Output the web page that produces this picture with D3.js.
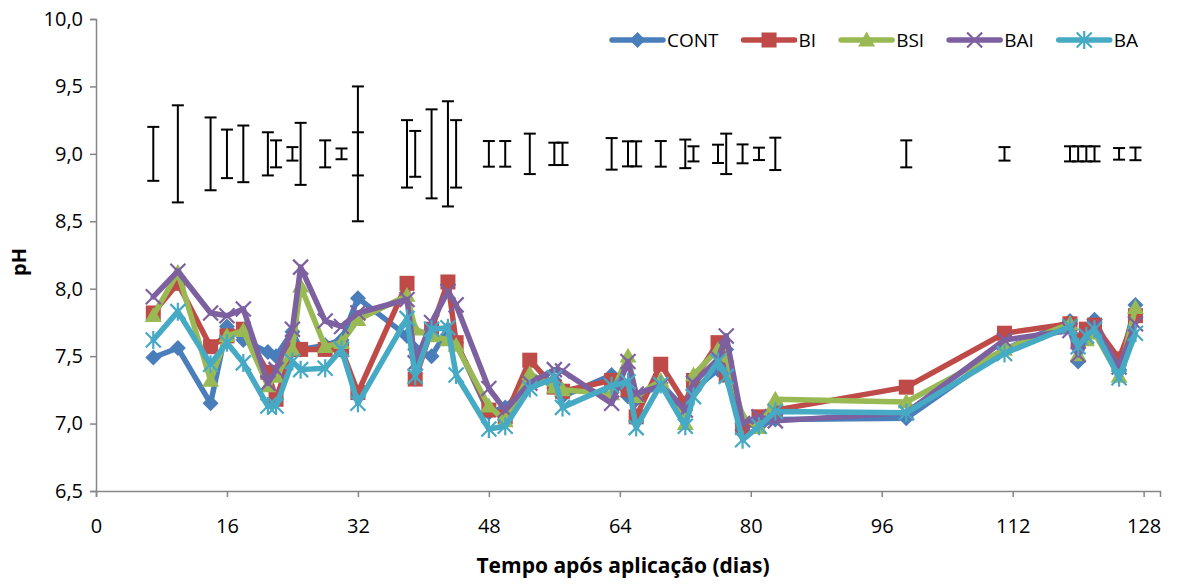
<!DOCTYPE html>
<html>
<head>
<meta charset="utf-8">
<script src="https://cdn.jsdelivr.net/npm/d3@7"></script>
<style>
  body { margin: 0; background: #fff; }
  text { font-family: "Open Sans", sans-serif; }
</style>
</head>
<body>
<svg width="1179" height="584"></svg>
<script>
// ---------------------------------------------------------
// DATA
// ---------------------------------------------------------
const days = [7, 10, 14, 16, 18, 21, 22, 24, 25, 28, 30, 32, 38, 39, 41, 43, 44,
  48, 50, 53, 56, 57, 63, 65, 66, 69, 72, 73, 76, 77, 79, 81, 83, 99, 111,
  119, 120, 121, 122, 125, 127];

const cont = [7.49, 7.56, 7.15, 7.72, 7.62, 7.53, 7.50, 7.68, 7.55, 7.58, 7.62, 7.93, 7.65, 7.55, 7.50, 7.70, 7.60,
  7.08, 7.12, 7.30, 7.32, 7.20, 7.36, 7.20, 7.18, 7.30, 7.10, 7.25, 7.40, 7.55, 7.00, 6.98, 7.03, 7.04, 7.55,
  7.76, 7.46, 7.65, 7.77, 7.40, 7.88];
const bi = [7.82, 8.04, 7.57, 7.65, 7.70, 7.38, 7.18, 7.55, 7.55, 7.55, 7.55, 7.23, 8.04, 7.33, 7.70, 8.05, 7.60,
  7.10, 7.05, 7.47, 7.27, 7.24, 7.32, 7.25, 7.05, 7.44, 7.15, 7.32, 7.60, 7.36, 6.97, 7.05, 7.10, 7.27, 7.67,
  7.74, 7.62, 7.70, 7.73, 7.48, 7.80];
const bsi = [7.80, 8.12, 7.32, 7.65, 7.69, 7.28, 7.35, 7.55, 8.02, 7.57, 7.60, 7.77, 7.95, 7.70, 7.65, 7.62, 7.58,
  7.13, 7.02, 7.37, 7.27, 7.25, 7.22, 7.50, 7.20, 7.32, 7.00, 7.36, 7.55, 7.50, 7.05, 6.97, 7.18, 7.16, 7.55,
  7.74, 7.51, 7.62, 7.67, 7.35, 7.86];
const bai = [7.94, 8.13, 7.82, 7.80, 7.85, 7.30, 7.40, 7.70, 8.16, 7.76, 7.72, 7.82, 7.92, 7.45, 7.75, 7.98, 7.88,
  7.26, 7.10, 7.30, 7.40, 7.39, 7.15, 7.46, 7.22, 7.28, 7.10, 7.30, 7.48, 7.65, 7.00, 7.05, 7.02, 7.08, 7.62,
  7.69, 7.51, 7.65, 7.72, 7.42, 7.74];
const ba = [7.62, 7.83, 7.44, 7.60, 7.45, 7.13, 7.13, 7.46, 7.40, 7.41, 7.55, 7.15, 7.78, 7.35, 7.70, 7.71, 7.36,
  6.96, 6.98, 7.26, 7.34, 7.12, 7.28, 7.31, 6.97, 7.29, 6.98, 7.20, 7.46, 7.35, 6.88, 6.98, 7.09, 7.08, 7.52,
  7.72, 7.57, 7.65, 7.70, 7.34, 7.67];

const seriesNames = ["CONT", "BI", "BSI", "BAI", "BA"];

// error bars (standard deviation) drawn around pH 9,0
const errCenter = 9;
const errDays = [7, 10, 14, 16, 18, 21, 22, 24, 25, 28, 30, 32, 32, 38, 39, 41, 43, 44,
  48, 50, 53, 56, 57, 63, 65, 66, 69, 72, 73, 76, 77, 79, 81, 83, 99, 111,
  119, 120, 121, 122, 125, 127];
const errSD = [0.20, 0.36, 0.27, 0.18, 0.21, 0.16, 0.10, 0.05, 0.23, 0.10, 0.04, 0.50, 0.16, 0.25, 0.17, 0.33, 0.39, 0.25,
  0.095, 0.095, 0.15, 0.083, 0.083, 0.117, 0.093, 0.093, 0.095, 0.106, 0.056, 0.068, 0.15, 0.07, 0.046, 0.12, 0.10, 0.05,
  0.056, 0.056, 0.056, 0.056, 0.043, 0.047];

const xTicks = [0, 16, 32, 48, 64, 80, 96, 112, 128];
const yTicks = [6.5, 7, 7.5, 8, 8.5, 9, 9.5, 10];

// ---------------------------------------------------------
// SETUP
// ---------------------------------------------------------
const svg = d3.select("svg");
const plot = { left: 96, top: 19, right: 1160, bottom: 491 };

const xScale = d3.scaleLinear().domain([0, 130]).range([plot.left, plot.right]);
const yScale = d3.scaleLinear().domain([6.5, 10]).range([plot.bottom, plot.top]);

const colors = ["#4A7EBB", "#BE4B48", "#98B954", "#7D60A0", "#46AAC5"];
const shapes = ["diamond", "square", "triangle", "x", "star"];
const values = [cont, bi, bsi, bai, ba];

const series = seriesNames.map((name, i) => ({
  name: name,
  color: colors[i],
  shape: shapes[i],
  points: days.map((d, j) => ({ day: d, v: values[i][j] }))
}));

const commaFmt = d => d3.format(".1f")(d).replace(".", ",");

// axes
const xAxis = d3.axisBottom(xScale).tickValues(xTicks).tickSize(6).tickPadding(22);
const yAxis = d3.axisLeft(yScale).tickValues(yTicks).tickFormat(commaFmt).tickSize(6).tickPadding(7);

const xAxisGroup = svg.append("g")
  .attr("transform", "translate(0," + plot.bottom + ")")
  .call(xAxis);
const yAxisGroup = svg.append("g")
  .attr("transform", "translate(" + plot.left + ",0)")
  .call(yAxis);

[xAxisGroup, yAxisGroup].forEach(g => {
  g.select(".domain").attr("stroke", "#868686").attr("stroke-width", 1.5);
  g.selectAll(".tick line").attr("stroke", "#868686").attr("stroke-width", 1.5);
  g.selectAll(".tick text").attr("fill", "#000").style("font-size", "20px");
});

// axis titles
svg.append("text")
  .attr("x", 623).attr("y", 573)
  .attr("text-anchor", "middle")
  .style("font-size", "21px").style("font-weight", "bold")
  .text("Tempo após aplicação (dias)");

svg.append("text")
  .attr("transform", "translate(26,262) rotate(-90)")
  .attr("text-anchor", "middle")
  .style("font-size", "20px").style("font-weight", "bold")
  .text("pH");

// ---------------------------------------------------------
// MARKERS
// ---------------------------------------------------------
function drawMarker(g, shape, color, cx, cy) {
  if (shape === "diamond") {
    const r = 8;
    g.append("path").attr("d", `M${cx},${cy - r}L${cx + r},${cy}L${cx},${cy + r}L${cx - r},${cy}Z`).attr("fill", color);
  } else if (shape === "square") {
    const r = 7.5;
    g.append("rect").attr("x", cx - r).attr("y", cy - r).attr("width", 2 * r).attr("height", 2 * r).attr("fill", color);
  } else if (shape === "triangle") {
    const r = 8.5;
    g.append("path").attr("d", `M${cx},${cy - r}L${cx + r},${cy + r * 0.75}L${cx - r},${cy + r * 0.75}Z`).attr("fill", color);
  } else if (shape === "x") {
    const r = 7.5;
    g.append("path").attr("d", `M${cx - r},${cy - r}L${cx + r},${cy + r}M${cx - r},${cy + r}L${cx + r},${cy - r}`)
      .attr("stroke", color).attr("stroke-width", 2.2).attr("fill", "none");
  } else {
    const r = 7.5;
    g.append("path").attr("d", `M${cx - r},${cy - r}L${cx + r},${cy + r}M${cx - r},${cy + r}L${cx + r},${cy - r}M${cx},${cy - r * 1.2}L${cx},${cy + r * 1.2}`)
      .attr("stroke", color).attr("stroke-width", 2.2).attr("fill", "none");
  }
}

// ---------------------------------------------------------
// SERIES
// ---------------------------------------------------------
const line = d3.line().x(d => xScale(d.day)).y(d => yScale(d.v));
const chart = svg.append("g").attr("class", "chart");

series.forEach(s => {
  const g = chart.append("g");
  g.append("path")
    .datum(s.points)
    .attr("d", line)
    .attr("fill", "none")
    .attr("stroke", s.color)
    .attr("stroke-width", 5.5)
    .attr("stroke-linejoin", "round")
    .attr("stroke-linecap", "round");
  s.points.forEach(p => drawMarker(g, s.shape, s.color, xScale(p.day), yScale(p.v)));
});

// error bars
const errGroup = svg.append("g").attr("stroke", "#000").attr("stroke-width", 2);
errDays.forEach((d, i) => {
  const cx = xScale(d);
  const y1 = yScale(errCenter + errSD[i]);
  const y2 = yScale(errCenter - errSD[i]);
  errGroup.append("line").attr("x1", cx).attr("x2", cx).attr("y1", y1).attr("y2", y2);
  errGroup.append("line").attr("x1", cx - 6).attr("x2", cx + 6).attr("y1", y1).attr("y2", y1);
  errGroup.append("line").attr("x1", cx - 6).attr("x2", cx + 6).attr("y1", y2).attr("y2", y2);
});

// ---------------------------------------------------------
// LEGEND
// ---------------------------------------------------------
const legend = svg.append("g");
let lx = 612;
const ly = 40;
series.forEach(s => {
  legend.append("line")
    .attr("x1", lx).attr("x2", lx + 51).attr("y1", ly).attr("y2", ly)
    .attr("stroke", s.color).attr("stroke-width", 5.5).attr("stroke-linecap", "round");
  drawMarker(legend, s.shape, s.color, lx + 25.5, ly);
  const t = legend.append("text")
    .attr("x", lx + 55).attr("y", ly + 7)
    .style("font-size", "19px")
    .text(s.name);
  lx = lx + 55 + t.node().getComputedTextLength() + 25;
});
</script>
</body>
</html>
